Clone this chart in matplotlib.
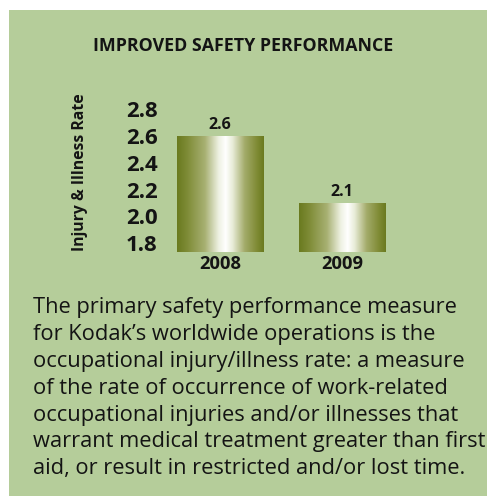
import numpy as np
import matplotlib
matplotlib.use("Agg")
import matplotlib.pyplot as plt
from matplotlib.colors import LinearSegmentedColormap
from matplotlib.patches import Rectangle

# ---- data ----
years = ["2008", "2009"]
rates = [2.6, 2.1]
value_labels = ["2.6", "2.1"]
yticks = [1.8, 2.0, 2.2, 2.4, 2.6, 2.8]
ytick_labels = ["1.8", "2.0", "2.2", "2.4", "2.6", "2.8"]
title = "IMPROVED SAFETY PERFORMANCE"
ylabel = "Injury & Illness Rate"
paragraph = [
    "The primary safety performance measure",
    "for Kodak\u2019s worldwide operations is the",
    "occupational injury/illness rate: a measure",
    "of the rate of occurrence of work-related",
    "occupational injuries and/or illnesses that",
    "warrant medical treatment greater than first",
    "aid, or result in restricted and/or lost time.",
]

W, H = 487, 496
DPI = 100
GREEN = "#b5cd9a"
TXT = "#141414"
FONT = "Open Sans"

fig = plt.figure(figsize=(W / DPI, H / DPI), dpi=DPI, facecolor="white")

def fx(px):
    return px / W

def fy(py):
    return 1 - py / H

# green panel
fig.patches.append(Rectangle((fx(9), 0), 1 - fx(9), fy(10), transform=fig.transFigure,
                             facecolor=GREEN, edgecolor="none", zorder=-5))

# axes
ax_l, ax_r, ax_t, ax_b = 177, 385, 109.3, 252
ax = fig.add_axes([fx(ax_l), fy(ax_b), (ax_r - ax_l) / W, (ax_b - ax_t) / H])
ax.set_zorder(2)
ax.patch.set_visible(False)
bw = 0.705
x = np.arange(len(years))
bars = ax.bar(x, rates, width=bw, bottom=0, color="none", edgecolor="none")
ymin, ymax = 1.735, 2.8

cmap = LinearSegmentedColormap.from_list("olive", [
    (0.0, "#6a7a1f"),
    (0.12, "#7f8c37"),
    (0.32, "#a7b072"),
    (0.48, "#eef1e2"),
    (0.56, "#ffffff"),
    (0.64, "#e8ecd8"),
    (0.78, "#a3ab6a"),
    (0.92, "#7f8b35"),
    (1.0, "#6a7a1f"),
])
grad = np.linspace(0, 1, 256).reshape(1, -1)
for b in bars:
    x0, w = b.get_x(), b.get_width()
    top = b.get_height()
    ax.imshow(grad, cmap=cmap, aspect="auto", extent=(x0, x0 + w, ymin, top),
              interpolation="bilinear", zorder=2)
ax.set_xlim(-bw / 2, len(years) - 1 + bw / 2)
ax.set_ylim(ymin, ymax)

for xi, v, lab in zip(x, rates, value_labels):
    ax.annotate(lab, (xi, v), xytext=(0, 2), textcoords="offset points",
                ha="center", va="bottom", fontsize=11.5, fontweight="bold",
                family=FONT, color=TXT)

ax.set_yticks(yticks)
ax.set_yticklabels(ytick_labels, fontsize=16, fontweight="bold", family=FONT, color=TXT)
ax.set_xticks(x)
ax.set_xticklabels(years, fontsize=13.2, fontweight="bold", family=FONT, color=TXT)
ax.tick_params(axis="y", length=0, pad=14)
ax.tick_params(axis="x", length=0, pad=2.5)
for s in ax.spines.values():
    s.set_visible(False)

# titles
fig.text(fx(243), fy(46), title, ha="center", va="center", fontsize=12.8,
         fontweight="bold", family=FONT, color=TXT)
fig.text(fx(80), fy(172), ylabel, ha="center", va="center", rotation=90,
         fontsize=11.3, fontweight="bold", family=FONT, color=TXT)

# paragraph
base0, step = 313.3, 26.8
for i, line in enumerate(paragraph):
    fig.text(fx(33), fy(base0 + i * step), line, ha="left", va="baseline",
             fontsize=15.75, family=FONT, color=TXT)

fig.savefig("out.png", dpi=DPI, facecolor="white")
